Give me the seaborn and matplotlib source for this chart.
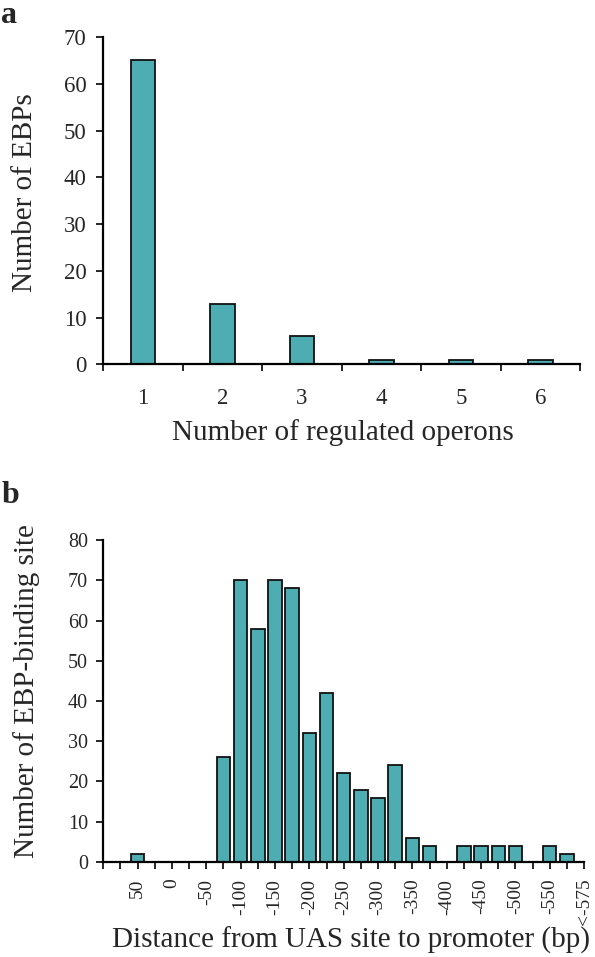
import matplotlib
matplotlib.use("Agg")
import matplotlib.pyplot as plt
import seaborn as sns
import pandas as pd

# panel a: EBPs per number of regulated operons
operons = [1, 2, 3, 4, 5, 6]
ebp_counts = [65, 13, 6, 1, 1, 1]

# panel b: EBP-binding sites per distance bin (bp, bins of 25)
distance_bins = [75, 50, 25, 0, -25, -50, -75, -100, -125, -150, -175, -200, -225,
                 -250, -275, -300, -325, -350, -375, -400, -425, -450, -475, -500,
                 -525, -550, -575]
site_counts = [0, 2, 0, 0, 0, 0, 26, 70, 58, 70, 68, 32, 42,
               22, 18, 16, 24, 6, 4, 0, 4, 4, 4, 4,
               0, 4, 2]
last_label = "<-575"

bar_color = "#4DADB3"
edge_color = "#111111"

sns.set_style("white")
plt.rcParams["font.family"] = ["Liberation Serif", "DejaVu Serif"]

W, H = 595, 957
fig = plt.figure(figsize=(W / 100, H / 100), dpi=100)

# ---------- panel a ----------
ax1 = fig.add_axes([0.1736, 0.6193, 0.8012, 0.342])
df_a = pd.DataFrame({"operons": [str(o) for o in operons], "count": ebp_counts})
sns.barplot(data=df_a, x="operons", y="count", color=bar_color, width=0.31,
            edgecolor=edge_color, linewidth=1.3, saturation=1, ax=ax1)
ax1.set_xlim(-0.5, len(operons) - 0.5)
ax1.set_ylim(0, 70)
ax1.set_yticks(range(0, 71, 10))
ax1.set_xticks(range(len(operons)))
ax1.set_xticklabels([str(o) for o in operons])
ax1.set_xticks([i - 0.5 for i in range(len(operons) + 1)], minor=True)
ax1.tick_params(axis="x", which="major", length=0, pad=17, labelsize=16.5)
ax1.tick_params(axis="x", which="minor", length=5, width=1.4, direction="out",
                bottom=True)
ax1.tick_params(axis="y", length=5, width=1.4, direction="out", left=True,
                pad=7, labelsize=16.5)
ax1.set_xlabel("Number of regulated operons", fontsize=21, va="baseline")
ax1.xaxis.set_label_coords(343 / W, 1 - 440 / H, transform=fig.transFigure)
ax1.set_ylabel("Number of EBPs", fontsize=21)
ax1.yaxis.set_label_coords(-0.137, 0.525)
sns.despine(ax=ax1)
for side in ["left", "bottom"]:
    ax1.spines[side].set_linewidth(1.6)
    ax1.spines[side].set_color("black")

# ---------- panel b ----------
ax2 = fig.add_axes([0.1736, 0.0993, 0.808, 0.3364])
df_b = pd.DataFrame({"bin": [str(b) for b in distance_bins], "count": site_counts})
sns.barplot(data=df_b, x="bin", y="count", color=bar_color, width=0.78,
            edgecolor=edge_color, linewidth=1.3, saturation=1, ax=ax2)
n = len(distance_bins)
ax2.set_xlim(-1, n)
ax2.set_ylim(0, 80)
ax2.set_yticks(range(0, 81, 10))
tick_pos = list(range(-1, n + 1))
tick_lab = []
for p in tick_pos:
    if 0 <= p < n and distance_bins[p] % 50 == 0:
        tick_lab.append(str(distance_bins[p]))
    elif p == n:
        tick_lab.append(last_label)
    else:
        tick_lab.append("")
ax2.set_xticks(tick_pos)
ax2.set_xticklabels(tick_lab, rotation=90)
ax2.tick_params(axis="x", length=5, width=1.4, direction="out", bottom=True,
                pad=7, labelsize=14)
ax2.tick_params(axis="y", length=5, width=1.4, direction="out", left=True,
                pad=6, labelsize=14.5)
ax2.set_xlabel("Distance from UAS site to promoter (bp)", fontsize=21, va="baseline")
ax2.xaxis.set_label_coords(351 / W, 1 - 948 / H, transform=fig.transFigure)
ax2.set_ylabel("Number of EBP-binding site", fontsize=21)
ax2.yaxis.set_label_coords(-0.132, 0.53)
sns.despine(ax=ax2)
for side in ["left", "bottom"]:
    ax2.spines[side].set_linewidth(1.6)
    ax2.spines[side].set_color("black")

fig.text(0.002, 0.999, "a", fontsize=23, fontweight="bold", va="top", ha="left")
fig.text(0.002, 1 - 503 / H, "b", fontsize=23, fontweight="bold", va="baseline", ha="left")

fig.savefig("out.png", dpi=100)
